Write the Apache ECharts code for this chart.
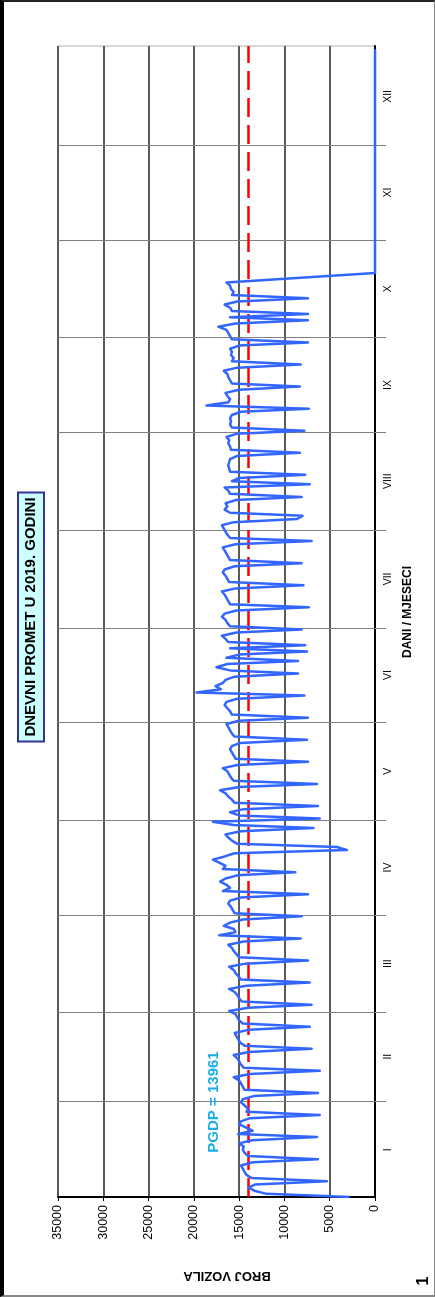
<!DOCTYPE html>
<html><head><meta charset="utf-8">
<script src="https://cdn.jsdelivr.net/npm/echarts@6/dist/echarts.min.js"></script>
<style>
html,body{margin:0;padding:0;background:#fff}
#c{width:435px;height:1297px;position:absolute;left:0;top:0}
#frame{position:absolute;left:0;top:0;width:435px;height:1297px;box-sizing:border-box;border-left:4px solid #000;border-top:2px solid #222;border-right:1px solid #888;border-bottom:2px solid #888;pointer-events:none}
</style>
</head><body><div id="c"></div><div id="frame"></div>
<script>
// ---- data ----
const monthLabels = ['I','II','III','IV','V','VI','VII','VIII','IX','X','XI','XII'];
const monthLengths = [31,28,31,30,31,30,31,31,30,31,30,31];
const valueTicks = [0,5000,10000,15000,20000,25000,30000,35000];
const pgdp = 13961;
const jan = [2800,12000,13300,14000,13200,5300,13600,14200,14400,14600,14800,13500,6300,14000,14400,14600,14500,15000,13600,6400,15100,13500,14200,15000,14800,13800,6100,14200,14000,14400,14800];
const feb = [14600,13400,6300,14400,14600,14800,15000,15600,13800,6100,14500,14800,15000,15200,15600,13900,7000,14400,14900,15100,15300,15500,14000,7200,14600,15000,15200,15400];
const mar = [16100,14000,7000,14700,15000,15200,15500,16100,14200,7200,14800,15100,15400,15600,16100,14300,7400,15000,15300,15600,15800,16200,14500,8200,17200,15400,15600,16700,16000,14600,8100];
const apr = [15500,15700,15900,16200,16000,14800,7400,16800,16000,16400,17100,16500,15200,8800,16800,16500,17200,17900,16600,15500,3100,4200,15200,15800,16200,16500,14800,6800,15600,17900];
const may = [6100,15000,16000,14500,6300,15500,15800,16200,16500,17100,15000,6400,15600,15900,16100,16300,16800,15200,7400,15400,15600,15800,16000,15800,14900,7500,15500,15800,16000,16200,16400];
const jun = [15000,7400,15800,16000,16300,16600,16400,15200,7800,19700,17000,17600,16800,16500,15500,8500,16000,17500,16300,8500,16400,15000,7500,16000,7700,16200,16500,16900,15300,8100];
const jul = [16000,16300,16500,16900,16600,15300,7300,16000,16200,16400,16600,16900,15400,7900,16100,16300,16500,16800,16600,15500,8100,16000,16200,16400,16600,16800,15400,7000,16000,16300,16500];
const aug = [16700,16900,15600,8600,8000,16000,16600,16300,16500,15400,8100,16000,16200,16600,7200,15800,15000,7700,16000,16100,16200,16100,16000,15200,8300,15900,16000,16200,16100,16400,15300];
const sep = [7800,15800,16000,15900,16000,15800,14800,7300,18600,16200,16000,16300,16500,15000,8300,15800,16000,16200,16300,16700,15200,8200,15800,15600,15900,15800,16000,15000,7400,15800];
const oct = [16000,16200,16400,17300,15400,7400,16000,7400,15800,16000,16600,15200,7400,15800,15600,15900,16000,16400,null,null,0,0,0,0,0,0,0,0,0,0,0];
const nov = [0,0,0,0,0,0,0,0,0,0,0,0,0,0,0,0,0,0,0,0,0,0,0,0,0,0,0,0,0,0];
const dec = [0,0,0,0,0,0,0,0,0,0,0,0,0,0,0,0,0,0,0,0,0,0,0,0,0,0,0,0,0,0,0];

// ---- build ----
const traffic = [].concat(jan,feb,mar,apr,may,jun,jul,aug,sep,oct,nov,dec);
const points = traffic.map((v,i)=>[v,i]);
const starts = []; let acc = 0;
monthLengths.forEach(l=>{starts.push(acc); acc+=l;});
const boundaries = starts.slice(1).map(s=>s-0.5);
const mids = starts.map((s,k)=>s+monthLengths[k]/2-0.5);
const FONT = '"Liberation Sans", Arial, sans-serif';

const chart = echarts.init(document.getElementById('c'), null, {renderer:'canvas'});
chart.setOption({
  animation:false,
  backgroundColor:'#fff',
  grid:{left:58,right:60,top:46,bottom:100,show:true,borderColor:'#b0b0b0',borderWidth:1,backgroundColor:'#fff'},
  xAxis:{type:'value',inverse:true,min:valueTicks[0],max:valueTicks[valueTicks.length-1],interval:5000,position:'bottom',
    axisLine:{show:true,onZero:false,lineStyle:{color:'#000',width:2}},
    axisTick:{show:true,length:4,lineStyle:{color:'#000',width:1}},
    axisLabel:{rotate:90,margin:8,color:'#000',fontFamily:FONT,fontSize:12.5,formatter:function(v){return String(v);}},
    splitLine:{show:true,lineStyle:{color:'#5a5a5a',width:2}}},
  yAxis:{type:'value',min:0,max:365,position:'right',
    axisLine:{show:true,onZero:false,lineStyle:{color:'#000',width:2}},
    axisTick:{show:true,customValues:boundaries,length:11,lineStyle:{color:'#808080',width:1}},
    axisLabel:{show:true,customValues:mids,rotate:90,margin:8,color:'#000',fontFamily:FONT,fontSize:10.5,
      formatter:function(v){const k=mids.indexOf(v);return k>=0?monthLabels[k]:'';}},
    splitLine:{show:false}},
  series:[
    {type:'line',name:'mjeseci',data:[],z:1,silent:true,
      markLine:{silent:true,z:1,symbol:'none',animation:false,label:{show:false},
        lineStyle:{color:'#808080',width:1,type:'solid'},
        data:boundaries.map(b=>({yAxis:b}))}},
    {type:'line',name:'PGDP',data:[],z:2,silent:true,
      markLine:{silent:true,z:2,symbol:'none',animation:false,label:{show:false},
        lineStyle:{color:'#ff0000',width:2.5,type:[19,8]},
        data:[{xAxis:pgdp}]}},
    {type:'line',name:'promet',data:points,z:6,connectNulls:true,showSymbol:false,symbol:'none',
      lineStyle:{color:'#3366ff',width:2.5,join:'round'}}
  ],
  graphic:[
    {type:'text',x:31,y:617,rotation:Math.PI/2,z:10,
      style:{text:'DNEVNI PROMET U 2019. GODINI',font:'bold 15px '+FONT,fill:'#000',align:'center',verticalAlign:'middle',
        backgroundColor:'#ccffff',borderColor:'#333399',borderWidth:2,padding:[5,4,4,4]}},
    {type:'text',x:214,y:1102,rotation:Math.PI/2,z:10,
      style:{text:'PGDP = '+pgdp,font:'bold 15px '+FONT,fill:'#19aee8',align:'center',verticalAlign:'middle'}},
    {type:'text',x:408,y:612,rotation:Math.PI/2,z:10,
      style:{text:'DANI / MJESECI',font:'bold 12px '+FONT,fill:'#000',align:'center',verticalAlign:'middle'}},
    {type:'text',x:227,y:1276,rotation:Math.PI,z:10,
      style:{text:'BROJ VOZILA',font:'bold 13px '+FONT,fill:'#000',align:'center',verticalAlign:'middle'}},
    {type:'text',x:424,y:1281,rotation:Math.PI/2,z:10,
      style:{text:'1',font:'bold 16px '+FONT,fill:'#000',align:'center',verticalAlign:'middle'}}
  ]
});
</script>
</body></html>
